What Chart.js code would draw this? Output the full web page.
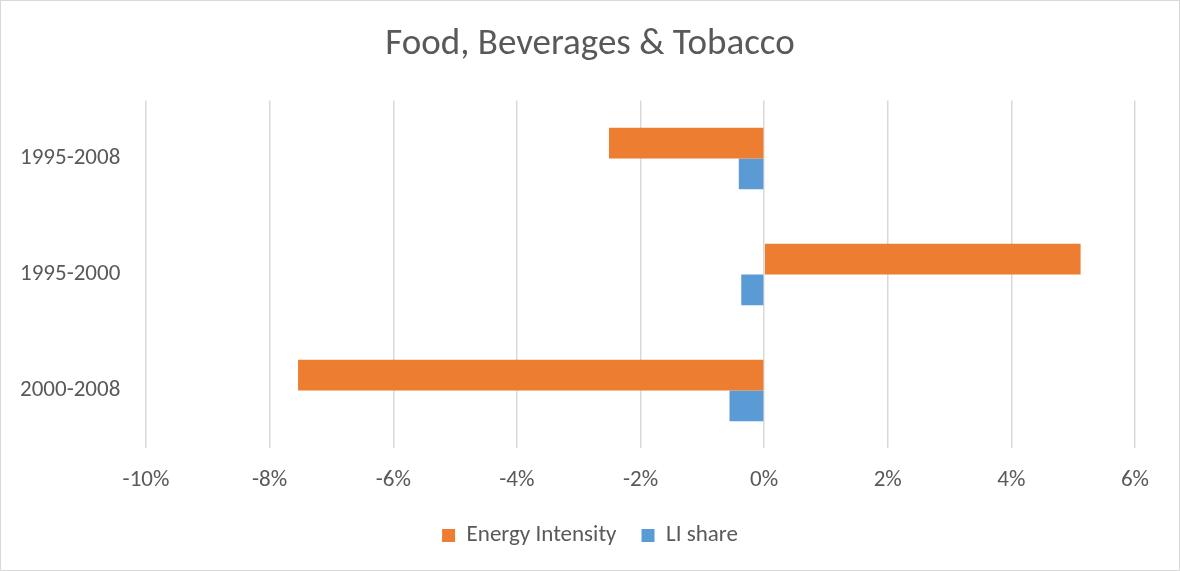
<!DOCTYPE html>
<html>
<head>
<meta charset="utf-8">
<script src="https://cdn.jsdelivr.net/npm/chart.js@4"></script>
<style>
    body { margin: 0; background: #fff; }
    #wrap { width: 1180px; height: 571px; box-sizing: border-box; border: 1px solid #d9d9d9; }
</style>
</head>
<body>
<div id="wrap"><canvas id="foodChart" width="1178" height="569"></canvas></div>
<script>
    // Chart data (percent changes)
    const periods = ['1995-2008', '1995-2000', '2000-2008'];
    const energyIntensity = [-2.51, 5.12, -7.54];
    const liShare = [-0.41, -0.37, -0.56];
    const xTicks = [-10, -8, -6, -4, -2, 0, 2, 4, 6];

    const fontFamily = "Carlito, Calibri, 'Open Sans', sans-serif";
    const textColor = '#595959';

    const ctx = document.getElementById('foodChart').getContext('2d');
    const foodChart = new Chart(ctx, {
        type: 'bar',
        data: {
            labels: periods,
            datasets: [
                {
                    label: 'Energy Intensity',
                    data: energyIntensity,
                    backgroundColor: '#ED7D31',
                    categoryPercentage: 0.53,
                    barPercentage: 1.0
                },
                {
                    label: 'LI share',
                    data: liShare,
                    backgroundColor: '#5B9BD5',
                    categoryPercentage: 0.53,
                    barPercentage: 1.0
                }
            ]
        },
        options: {
            indexAxis: 'y',
            responsive: false,
            animation: false,
            layout: {
                padding: { left: 44, right: 44, top: 0, bottom: 13 }
            },
            plugins: {
                title: {
                    display: true,
                    text: 'Food, Beverages & Tobacco',
                    color: textColor,
                    font: { family: fontFamily, size: 37, weight: 'normal' },
                    padding: { top: 22, bottom: 33 }
                },
                legend: {
                    position: 'bottom',
                    labels: {
                        color: textColor,
                        font: { family: fontFamily, size: 23 },
                        boxWidth: 13,
                        boxHeight: 13,
                        padding: 25
                    }
                },
                tooltip: { enabled: false }
            },
            scales: {
                x: {
                    min: -10,
                    max: 6,
                    afterBuildTicks: function(axis) {
                        axis.ticks = xTicks.map(v => ({ value: v }));
                    },
                    afterFit: function(axis) {
                        // pull the legend up closer to the tick labels
                        axis.height -= 13;
                    },
                    grid: {
                        color: '#d9d9d9',
                        lineWidth: 1.5,
                        drawTicks: false
                    },
                    border: { display: false },
                    ticks: {
                        color: textColor,
                        font: { family: fontFamily, size: 23 },
                        padding: 18,
                        callback: v => v + '%'
                    }
                },
                y: {
                    grid: { display: false, drawTicks: false },
                    border: { display: false },
                    afterFit: function(axis) {
                        axis.width = 101;
                    },
                    ticks: {
                        color: textColor,
                        font: { family: fontFamily, size: 23 },
                        mirror: true,           // avoids label clipping, left aligned
                        crossAlign: 'near',
                        padding: -126
                    }
                }
            }
        }
    });
</script>
</body>
</html>
